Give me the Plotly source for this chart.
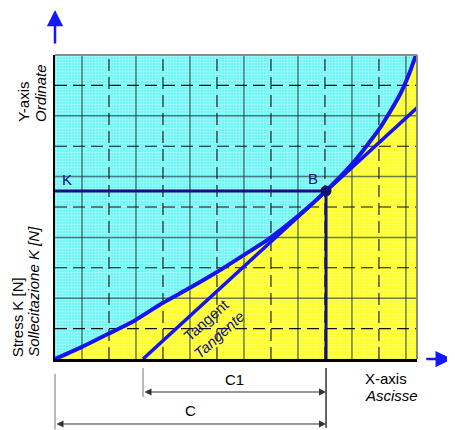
import plotly.graph_objects as go

# ---------------- data ----------------
curve_x = [0, 1, 1.96, 2.96, 4, 5, 6, 6.96, 7.96, 9, 10.04, 11.04, 12.04, 12.78, 13.15, 13.41]
curve_y = [0, 0.40, 0.82, 1.27, 1.85, 2.34, 2.86, 3.40, 3.98, 4.70, 5.53, 6.45, 7.60, 8.70, 9.45, 10.1]
tangent_x = [3.26, 13.41]
tangent_y = [0.0, 8.26]
point_b_x = 10.04
point_b_y = 5.53
x_max = 13.41
y_max = 10
solid_x = [1, 3, 5, 7, 9, 11, 13]
dashed_x = [2, 4, 6, 8, 10, 12]
solid_y = [2, 4, 6, 8]
dashed_y = [1, 3, 5, 7, 9]

FONT = "Liberation Sans, Arial, sans-serif"
NAVY = "#12127a"
BLUE = "#1414f0"

fig = go.Figure()

# cyan region (above curve)
fig.add_trace(go.Scatter(
    x=[0, x_max], y=[y_max, y_max], mode="lines", line=dict(width=0),
    fill="tozeroy", fillcolor="#7ff6f6",
    fillpattern=dict(shape=".", bgcolor="#6cf5f5", fgcolor="#eeffff", size=3, solidity=0.38),
    hoverinfo="skip", showlegend=False))
# yellow region (below curve)
fig.add_trace(go.Scatter(
    x=curve_x, y=curve_y, mode="lines", line=dict(width=0, shape="spline", smoothing=0.6),
    fill="tozeroy", fillcolor="#ffff55",
    fillpattern=dict(shape=".", bgcolor="#ffff22", fgcolor="#ffffd0", size=3, solidity=0.35),
    hoverinfo="skip", showlegend=False))


def grid_segments(vals, vertical):
    xs, ys = [], []
    for v in vals:
        if vertical:
            xs += [v, v, None]
            ys += [0, y_max, None]
        else:
            xs += [0, x_max, None]
            ys += [v, v, None]
    return xs, ys


for vals, vertical, dash, color, width in [
    (solid_x, True, "solid", "rgba(25,60,60,0.65)", 1.5),
    (solid_y, False, "solid", "rgba(25,60,60,0.65)", 1.5),
    (dashed_x, True, "12px,6px", "#111111", 1.1),
    (dashed_y, False, "12px,6px", "#111111", 1.1),
]:
    gx, gy = grid_segments(vals, vertical)
    fig.add_trace(go.Scatter(x=gx, y=gy, mode="lines",
                             line=dict(color=color, width=width, dash=dash),
                             hoverinfo="skip", showlegend=False))

# K line and vertical through B
fig.add_trace(go.Scatter(x=[0, point_b_x], y=[point_b_y, point_b_y], mode="lines",
                         line=dict(color=NAVY, width=3), hoverinfo="skip", showlegend=False))
fig.add_trace(go.Scatter(x=[point_b_x, point_b_x], y=[0, point_b_y], mode="lines",
                         line=dict(color=NAVY, width=3), hoverinfo="skip", showlegend=False))
# tangent
fig.add_trace(go.Scatter(x=tangent_x, y=tangent_y, mode="lines",
                         line=dict(color=BLUE, width=3.5), hoverinfo="skip", showlegend=False))
# curve
fig.add_trace(go.Scatter(x=curve_x, y=curve_y, mode="lines",
                         line=dict(color=BLUE, width=4, shape="spline", smoothing=0.6),
                         hoverinfo="skip", showlegend=False))
# point B
fig.add_trace(go.Scatter(x=[point_b_x], y=[point_b_y], mode="markers",
                         marker=dict(color=NAVY, size=11), hoverinfo="skip", showlegend=False))

fig.update_xaxes(range=[0, x_max], showgrid=False, zeroline=False, showticklabels=False,
                 ticks="", showline=True, linecolor="black", linewidth=3, fixedrange=True)
fig.update_yaxes(range=[0, y_max], showgrid=False, zeroline=False, showticklabels=False,
                 ticks="", showline=True, linecolor="black", linewidth=2, fixedrange=True)

shapes = [
    dict(type="line", xref="paper", yref="paper", x0=0, x1=1, y0=1, y1=1,
         line=dict(color="#8a8a8a", width=2), layer="above"),
    dict(type="line", xref="paper", yref="paper", x0=1, x1=1, y0=0, y1=1,
         line=dict(color="#8a8a7a", width=2), layer="above"),
    # extension lines
    dict(type="line", xref="paper", yref="paper", x0=0, x1=0, y0=-0.049, y1=-0.232,
         line=dict(color="#777777", width=1)),
    dict(type="line", xref="x", yref="paper", x0=tangent_x[0], x1=tangent_x[0], y0=-0.030, y1=-0.125,
         line=dict(color="#777777", width=1)),
    dict(type="line", xref="x", yref="paper", x0=point_b_x, x1=point_b_x, y0=-0.030, y1=-0.226,
         line=dict(color="#111111", width=1.3)),
]

ann = []
# axis arrows
ann.append(dict(xref="paper", yref="paper", x=0, y=1.148, ax=0, ay=35, text="",
                showarrow=True, arrowhead=2, arrowsize=1.3, arrowwidth=2.5, arrowcolor="#1515ff", standoff=0))
ann.append(dict(xref="paper", yref="paper", x=1.096, y=0, ax=-27, ay=0, text="",
                showarrow=True, arrowhead=2, arrowsize=1.3, arrowwidth=2.5, arrowcolor="#1515ff", standoff=0))
# dimension lines
for y_dim, x_start in [(-0.1086, tangent_x[0]), (-0.2138, 0)]:
    ann.append(dict(xref="x", yref="paper", x=point_b_x, y=y_dim, axref="x", ax=x_start,
                    ayref="pixel", ay=0, text="", showarrow=True, arrowside="end+start",
                    arrowhead=2, startarrowhead=2, arrowsize=1.4, startarrowsize=1.4,
                    arrowwidth=1, arrowcolor="#333333", standoff=0, startstandoff=0))
# labels
txt = dict(family=FONT, size=15, color="black")
ann.append(dict(xref="x", yref="paper", x=(tangent_x[0] + point_b_x) / 2, y=-0.069, text="C1",
                xanchor="center", yanchor="middle", showarrow=False, font=txt))
ann.append(dict(xref="x", yref="paper", x=point_b_x / 2, y=-0.171, text="C",
                xanchor="center", yanchor="middle", showarrow=False, font=txt))
ann.append(dict(xref="paper", yref="paper", x=0.851, y=-0.0625, text="X-axis",
                xanchor="left", yanchor="middle", showarrow=False, font=txt))
ann.append(dict(xref="paper", yref="paper", x=0.851, y=-0.1217, text="<i>Ascisse</i>",
                xanchor="left", yanchor="middle", showarrow=False, font=txt))
ann.append(dict(xref="paper", yref="paper", x=-0.089, y=0.773, text="Y-axis", textangle=-90,
                xanchor="center", yanchor="bottom", showarrow=False, font=txt))
ann.append(dict(xref="paper", yref="paper", x=-0.0414, y=0.773, text="<i>Ordinate</i>", textangle=-90,
                xanchor="center", yanchor="bottom", showarrow=False, font=txt))
ann.append(dict(xref="paper", yref="paper", x=-0.104, y=0.0, text="Stress K [N]", textangle=-90,
                xanchor="center", yanchor="bottom", showarrow=False, font=txt))
ann.append(dict(xref="paper", yref="paper", x=-0.060, y=0.0, text="<i>Sollecitazione K [N]</i>", textangle=-90,
                xanchor="center", yanchor="bottom", showarrow=False, font=txt))
ann.append(dict(xref="x", yref="y", x=0, y=point_b_y, xshift=5, yshift=11, text="K", xanchor="left",
                showarrow=False, font=dict(family=FONT, size=15, color=NAVY)))
ann.append(dict(xref="x", yref="y", x=point_b_x, y=point_b_y, xshift=-13, yshift=12, text="B",
                showarrow=False, font=dict(family=FONT, size=15, color=NAVY)))
ann.append(dict(xref="x", yref="y", x=5.85, y=1.02, text="Tangent<br><i>Tangente</i>", textangle=-42,
                showarrow=False, font=dict(family=FONT, size=15, color=NAVY)))

# page body adds an 8px offset, so the figure is 8px smaller and margins shifted
fig.update_layout(
    width=447, height=422,
    margin=dict(l=47, r=38, t=47, b=71),
    paper_bgcolor="white", plot_bgcolor="white",
    showlegend=False, shapes=shapes, annotations=ann,
)

fig.write_html("out.html")
